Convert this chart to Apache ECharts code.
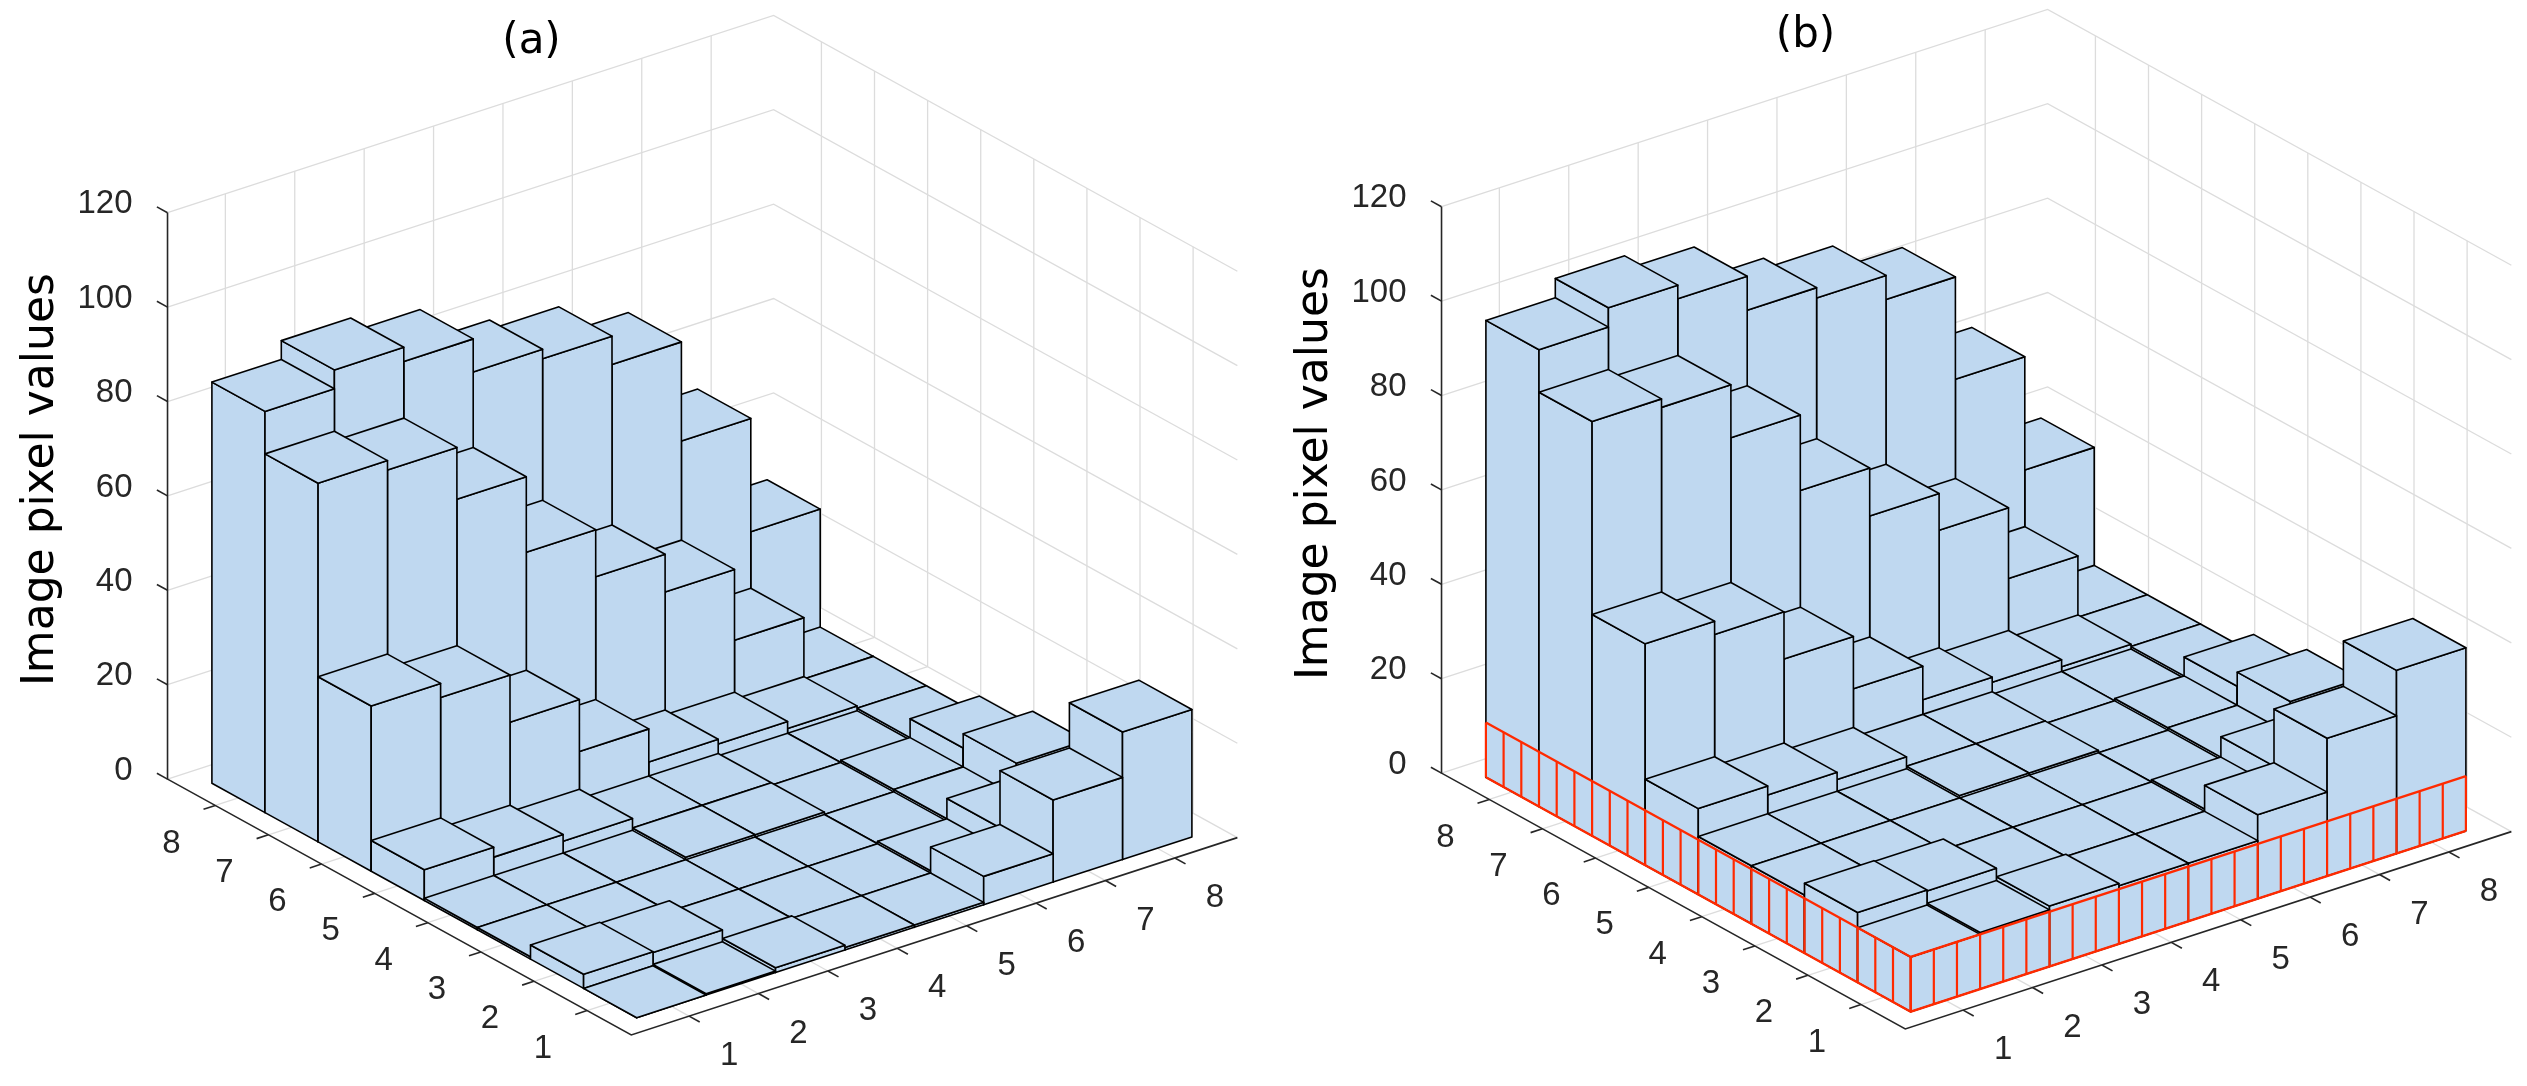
<!DOCTYPE html>
<html><head><meta charset="utf-8">
<script src="https://cdn.jsdelivr.net/npm/echarts@6/dist/echarts.min.js"></script>
<style>html,body{margin:0;padding:0;background:#fff}#c{width:2527px;height:1086px}</style>
</head><body><div id="c"></div>
<script>
// ---------------- data ----------------
const xTickLabels = ['1','2','3','4','5','6','7','8'];
const yTickLabels = ['1','2','3','4','5','6','7','8'];
const zTickValues = [0, 20, 40, 60, 80, 100, 120];
const panelTitles = ['(a)', '(b)'];
const zAxisName = 'Image pixel values';
// bar heights; row index 0 = y 1 ... row 7 = y 8; column index 0 = x 1 ... 7 = x 8
const valuesA = [
  [0,   0.3, 1,   0.5, 0.5, 6,   17.4, 27],
  [3,   2.8, 0.5, 0.5, 0.5, 1,   5.3,  7],
  [0.5, 0.5, 0.5, 0.5, 0.5, 0.5, 1,    8],
  [0.5, 0.5, 0.5, 1,   1,   0.5, 1,    5],
  [6.5, 4.4, 3,   1,   1,   0.5, 0.5,  1],
  [35,  32,  22,  11,  4,   3,   1.5,  1],
  [76,  74,  63,  47,  37,  29,  14,   1],
  [85,  89,  86,  79,  77,  71,  50,   26]
];
const valuesB = [
  [11.6, 12,   12.8, 12.3, 12.3, 17.8, 29.2, 38.8],
  [14.8, 14.6, 12.3, 12.3, 12.3, 12.8, 17.1, 18.8],
  [12.3, 12.3, 12.3, 12.3, 12.3, 12.3, 12.8, 19.8],
  [12.3, 12.3, 12.3, 12.8, 12.8, 12.3, 12.8, 16.8],
  [18.2, 16.3, 14.8, 12.8, 12.8, 12.3, 12.3, 12.8],
  [46.9, 44.1, 34.1, 23,   15.9, 14.8, 13.3, 12.8],
  [87.8, 86,   74.8, 58.8, 48.6, 40.8, 25.8, 12.8],
  [96.8, 100.9, 98,  90.8, 88.6, 83.5, 61.8, 37.8]
];
const paddingLevelB = 11.6;

// ---------------- view / projection (layout) ----------------
const W = 2527, H = 1086;
const EX = [69.4, -22.6], EY = [-53.1, -29.3], EZ = 4.72;
const ORIGIN = [[636.7, 1017.7], [1910.7, 1011.7]];   // screen pos of bar corner (0.5,0.5,0)
const XA = 1/6, XB = 8.9, YA = 1/6, YB = 8.9, ZMAX = 120;
function proj(p, x, y, z) {
  const o = ORIGIN[p];
  return [o[0] + (x - 0.5) * EX[0] + (y - 0.5) * EY[0],
          o[1] + (x - 0.5) * EX[1] + (y - 0.5) * EY[1] - z * EZ];
}
const tickPos = xTickLabels.map((s) => Number(s));
const yTickPos = yTickLabels.map((s) => Number(s));

const BAR_FILL = '#BFD8F0', EDGE = '#000000', AXIS = '#262626', GRID = '#DCDCDC', RED = '#FF2A00';
const TICK_FONT = '33px "Liberation Sans", Arial, sans-serif';

// bar data items: [panel, x, y, h], sorted back-to-front
function buildBars(p, vals) {
  const items = [];
  for (let j = 0; j < vals.length; j++)
    for (let i = 0; i < vals[j].length; i++)
      items.push([p, i + 1, j + 1, vals[j][i]]);
  items.sort((a, b) => (b[1] + b[2]) - (a[1] + a[2]));
  return items;
}
const barData = buildBars(0, valuesA).concat(buildBars(1, valuesB));

function line(api, pts, color, w) {
  return { type: 'polyline', silent: true,
    shape: { points: pts.map((q) => api.coord(q)) },
    style: { stroke: color, lineWidth: w, fill: 'none' } };
}

function renderFrame(params, api) {
  const p = api.value(0);
  const ch = [];
  tickPos.forEach((t) => ch.push(line(api, [proj(p, t, YA, 0), proj(p, t, YB, 0)], GRID, 1.3)));
  yTickPos.forEach((t) => ch.push(line(api, [proj(p, XA, t, 0), proj(p, XB, t, 0)], GRID, 1.3)));
  tickPos.forEach((t) => ch.push(line(api, [proj(p, t, YB, 0), proj(p, t, YB, ZMAX)], GRID, 1.3)));
  yTickPos.forEach((t) => ch.push(line(api, [proj(p, XB, t, 0), proj(p, XB, t, ZMAX)], GRID, 1.3)));
  zTickValues.forEach((z) => ch.push(line(api, [proj(p, XA, YB, z), proj(p, XB, YB, z), proj(p, XB, YA, z)], GRID, 1.3)));
  ch.push(line(api, [proj(p, XB, YA, 0), proj(p, XA, YA, 0), proj(p, XA, YB, 0), proj(p, XA, YB, ZMAX)], AXIS, 1.6));
  tickPos.forEach((t) => ch.push(line(api, [proj(p, t, YA, 0), proj(p, t, YA - 0.2, 0)], AXIS, 1.6)));
  yTickPos.forEach((t) => ch.push(line(api, [proj(p, XA, t, 0), proj(p, XA - 0.17, t, 0)], AXIS, 1.6)));
  zTickValues.forEach((z) => ch.push(line(api, [proj(p, XA, YB, z), proj(p, XA, YB + 0.2, z)], AXIS, 1.6)));
  return { type: 'group', children: ch };
}

function renderBar(params, api) {
  const p = api.value(0), i = api.value(1), j = api.value(2), h = api.value(3);
  const c = (x, y, z) => api.coord(proj(p, x, y, z));
  const F0 = c(i - 0.5, j - 0.5, 0), L0 = c(i - 0.5, j + 0.5, 0), R0 = c(i + 0.5, j - 0.5, 0);
  const F1 = c(i - 0.5, j - 0.5, h), L1 = c(i - 0.5, j + 0.5, h), R1 = c(i + 0.5, j - 0.5, h), B1 = c(i + 0.5, j + 0.5, h);
  const st = { fill: BAR_FILL, stroke: EDGE, lineWidth: 1.6, lineJoin: 'round' };
  return { type: 'group', children: [
    { type: 'polygon', shape: { points: [L0, F0, F1, L1] }, style: st },
    { type: 'polygon', shape: { points: [F0, R0, R1, F1] }, style: st },
    { type: 'polygon', shape: { points: [F1, R1, B1, L1] }, style: st }
  ] };
}

function renderBand(params, api) {
  const p = api.value(0), lv = api.value(1);
  const ch = [];
  ch.push(line(api, [proj(p, 0.5, 8.5, lv), proj(p, 0.5, 0.5, lv), proj(p, 8.5, 0.5, lv)], RED, 2.4));
  ch.push(line(api, [proj(p, 0.5, 8.5, 0), proj(p, 0.5, 0.5, 0), proj(p, 8.5, 0.5, 0)], RED, 2.4));
  for (let k = 0; k <= 24; k++) {
    const y = 8.5 - k / 3;
    ch.push(line(api, [proj(p, 0.5, y, 0), proj(p, 0.5, y, lv)], RED, 2.2));
    const x = 0.5 + k / 3;
    ch.push(line(api, [proj(p, x, 0.5, 0), proj(p, x, 0.5, lv)], RED, 2.2));
  }
  return { type: 'group', children: ch };
}

function txt(api, pt, dx, dy, s, font, fill, align, rot) {
  const q = api.coord(pt);
  return { type: 'text', silent: true, x: q[0] + dx, y: q[1] + dy, rotation: rot || 0,
    style: { text: s, font: font, fill: fill, align: align || 'center', verticalAlign: 'middle' } };
}

function renderLabels(params, api) {
  const p = api.value(0);
  const ch = [];
  xTickLabels.forEach((s, k) => ch.push(txt(api, proj(p, tickPos[k], YA, 0), 40, 40, s, TICK_FONT, AXIS)));
  yTickLabels.forEach((s, k) => ch.push(txt(api, proj(p, XA, yTickPos[k], 0), -44, 38, s, TICK_FONT, AXIS)));
  zTickValues.forEach((z) => ch.push(txt(api, proj(p, XA, YB, z), -35, -8.5, String(z), TICK_FONT, AXIS, 'right')));
  ch.push(txt(api, ORIGIN[p], -105.2, -976, panelTitles[p], '42px "DejaVu Sans", Verdana, sans-serif', '#000'));
  ch.push(txt(api, ORIGIN[p], -594.7, -538.1, zAxisName, '44px "DejaVu Sans", Verdana, sans-serif', '#000', 'center', Math.PI / 2));
  return { type: 'group', children: ch };
}

const chart = echarts.init(document.getElementById('c'), null, { renderer: 'canvas', width: W, height: H });
chart.setOption({
  animation: false,
  backgroundColor: '#ffffff',
  grid: { left: 0, top: 0, right: 0, bottom: 0 },
  xAxis: { type: 'value', min: 0, max: W, show: false },
  yAxis: { type: 'value', min: 0, max: H, inverse: true, show: false },
  series: [
    { type: 'custom', name: 'frame', renderItem: renderFrame, data: [[0, 0], [1, 0]], encode: { x: 0, y: 1 }, silent: true, z: 1 },
    { type: 'custom', name: 'bars', renderItem: renderBar, data: barData, encode: { x: 1, y: 2 }, silent: true, z: 2 },
    { type: 'custom', name: 'padding', renderItem: renderBand, data: [[1, paddingLevelB]], encode: { x: 0, y: 1 }, silent: true, z: 3 },
    { type: 'custom', name: 'labels', renderItem: renderLabels, data: [[0, 0], [1, 0]], encode: { x: 0, y: 1 }, silent: true, z: 4 }
  ]
});
</script></body></html>
